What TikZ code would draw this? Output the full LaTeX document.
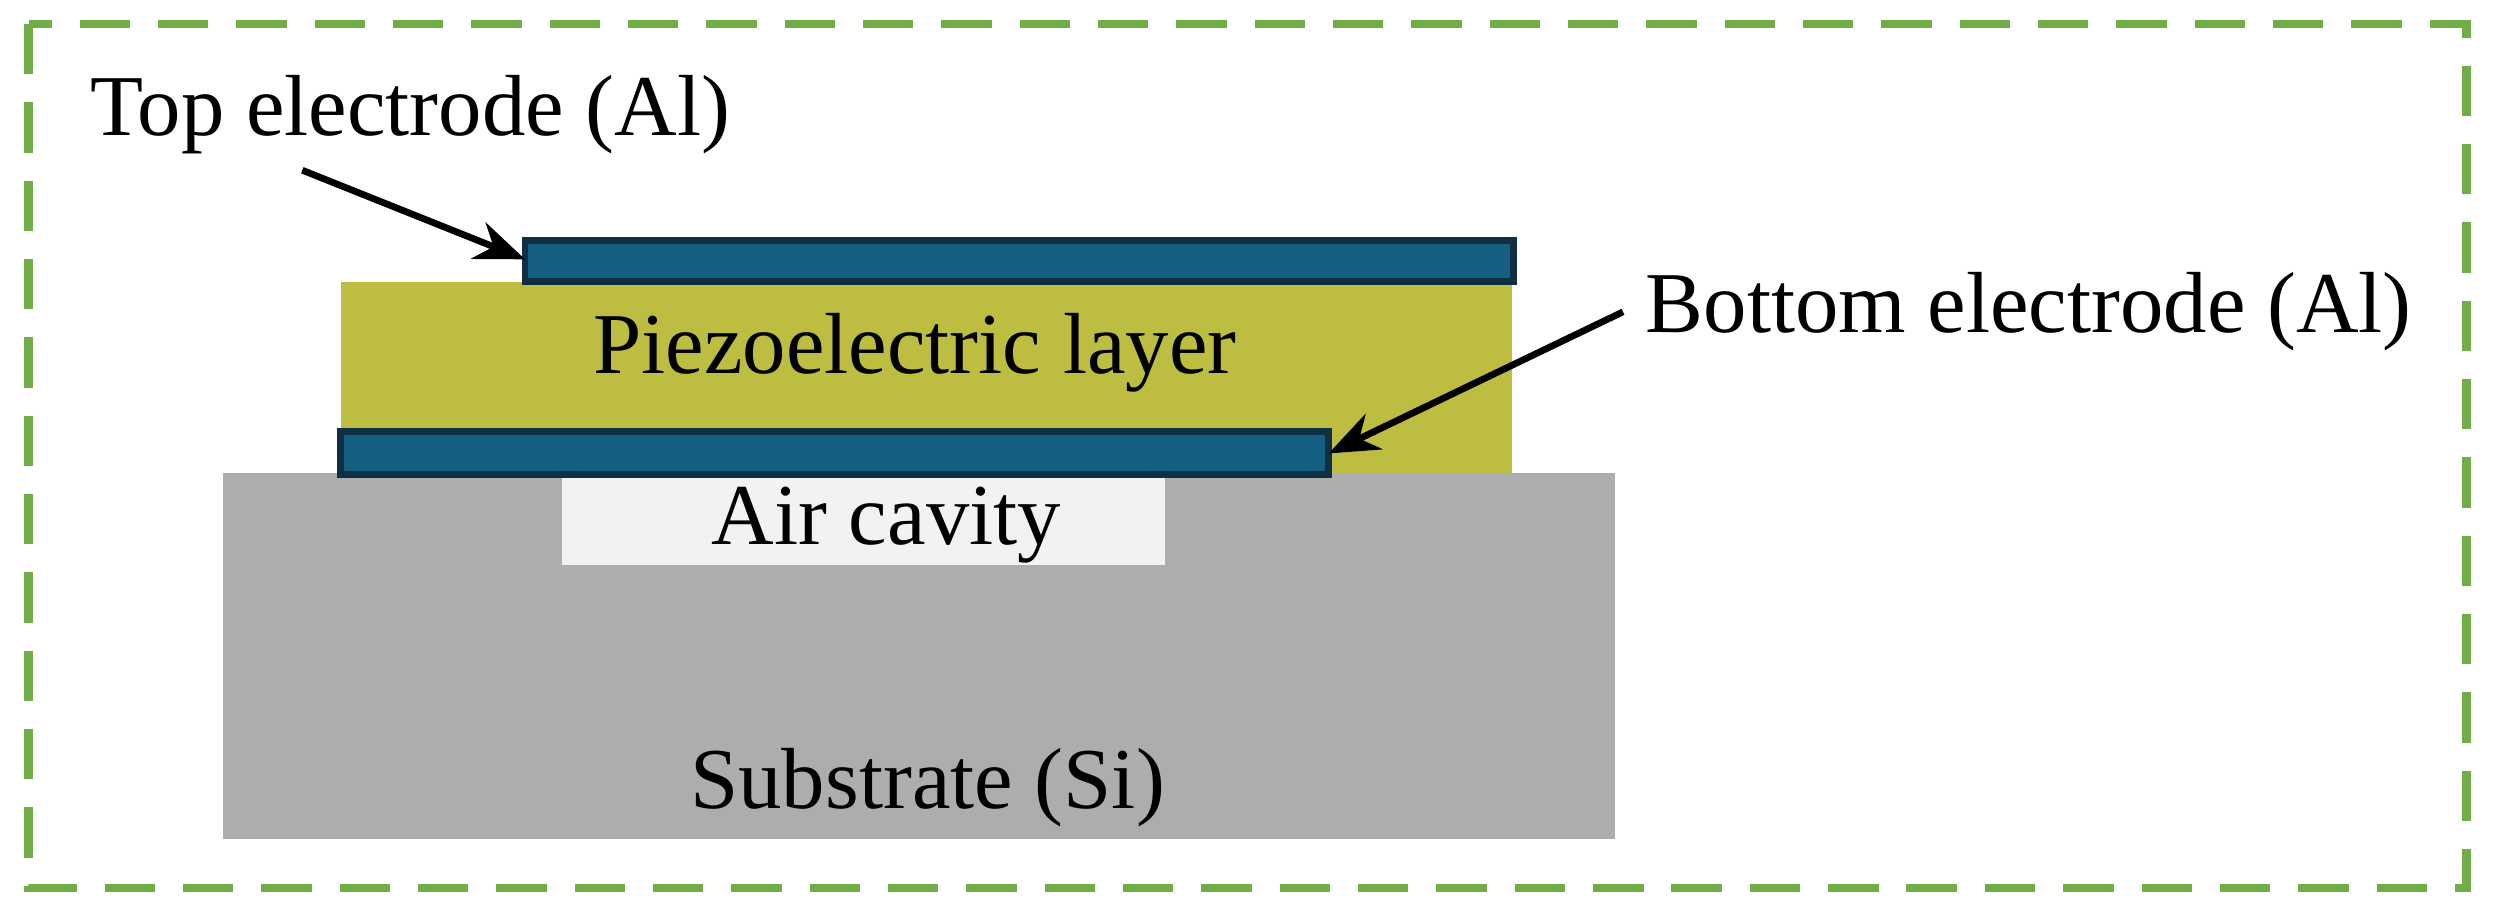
\documentclass[tikz,border=0pt]{standalone}
\usepackage{fontspec}
\setmainfont{Liberation Serif}
\definecolor{frame}{HTML}{70AD47}
\definecolor{sub}{HTML}{ADADAD}
\definecolor{air}{HTML}{F2F2F2}
\definecolor{piezo}{HTML}{BDBD42}
\definecolor{elec}{HTML}{156082}
\definecolor{elecb}{HTML}{0E2F44}
\begin{document}
\begin{tikzpicture}[x=0.01cm,y=-0.01cm,
  lbl/.style={font=\fontsize{15.5}{18}\selectfont,inner sep=0},
  electrode/.style={fill=elec,draw=elecb,line width=1.2pt},
  arr/.style={-{Stealth[length=9pt,width=7pt]},line width=1.2pt}]
\usetikzlibrary{arrows.meta}
\useasboundingbox (0,0) rectangle (1568,574);
\draw[frame,line width=1.5pt,dash pattern=on 9pt off 5pt] (18,15) rectangle (1550,558);
\fill[sub] (140,297) rectangle (1015,527);
\fill[air] (353,297) rectangle (732,355);
\fill[piezo] (214,177) rectangle (950,297);
\draw[electrode] (330,151) rectangle (951,177);
\draw[electrode] (214,271) rectangle (835,298);
\coordinate (te) at (330,163);
\coordinate (be) at (835,285);
\node[lbl] (tl) at (258,72) {Top electrode (Al)};
\node[lbl] (bl) at (1275,196) {Bottom electrode (Al)};
\node[lbl] (pl) at (575,222) {Piezoelectric layer};
\node[lbl] (al) at (557,330) {Air cavity};
\node[lbl] (sl) at (583,495) {Substrate (Si)};
\draw[arr] (190,107) -- (te);
\draw[arr] (1020,196) -- (be);
\end{tikzpicture}
\end{document}
